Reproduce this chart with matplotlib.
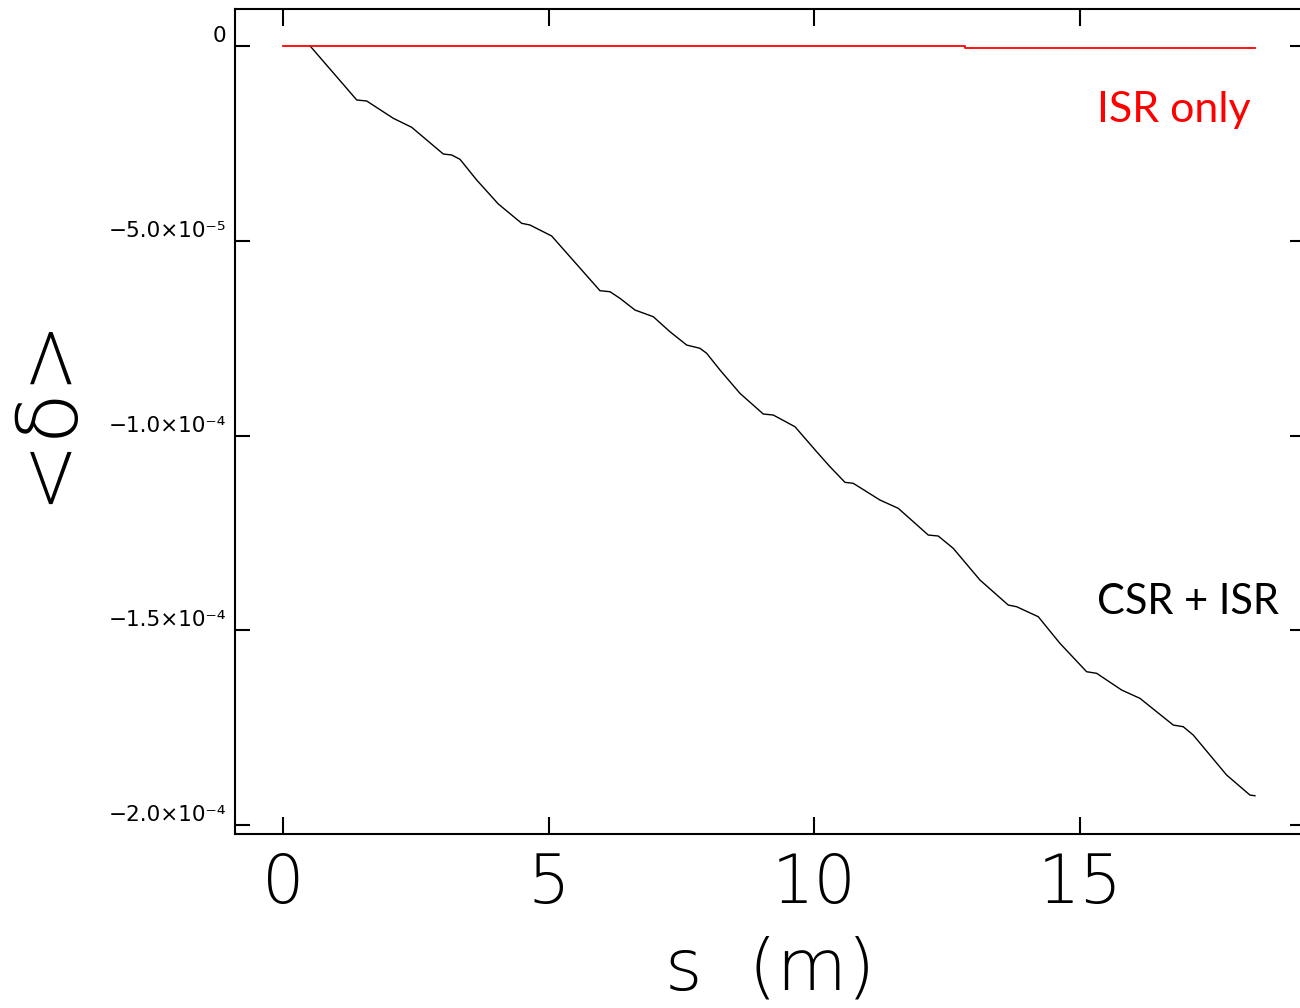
import matplotlib
matplotlib.use("Agg")
import matplotlib.pyplot as plt
from matplotlib.ticker import FixedLocator, FixedFormatter

# ---- data ----
s_csr = [0.51, 1.387, 1.575, 2.075, 2.421, 3.016, 3.174, 3.330, 3.644, 4.051,
         4.491, 4.647, 5.055, 5.964, 6.152, 6.340, 6.623, 6.967, 7.281, 7.595,
         7.846, 7.972, 8.222, 8.598, 9.037, 9.225, 9.633, 10.041, 10.292, 10.574,
         10.730, 11.232, 11.577, 12.141, 12.329, 12.611, 13.114, 13.646, 13.804, 14.211,
         14.619, 15.121, 15.310, 15.780, 16.124, 16.751, 16.939, 17.127, 17.755, 18.194,
         18.288]
d_csr = [0.0, -1.386e-5, -1.412e-5, -1.856e-5, -2.087e-5, -2.773e-5, -2.798e-5, -2.909e-5, -3.440e-5, -4.056e-5,
         -4.552e-5, -4.596e-5, -4.878e-5, -6.282e-5, -6.308e-5, -6.478e-5, -6.778e-5, -6.950e-5, -7.335e-5, -7.677e-5,
         -7.761e-5, -7.890e-5, -8.318e-5, -8.917e-5, -9.448e-5, -9.474e-5, -9.774e-5, -1.0416e-4, -1.0801e-4, -1.1202e-4,
         -1.1227e-4, -1.1656e-4, -1.1869e-4, -1.2555e-4, -1.2580e-4, -1.2896e-4, -1.3710e-4, -1.4352e-4, -1.4395e-4, -1.4652e-4,
         -1.5335e-4, -1.6064e-4, -1.6105e-4, -1.6534e-4, -1.6747e-4, -1.7433e-4, -1.7476e-4, -1.7689e-4, -1.8716e-4, -1.9230e-4,
         -1.9248e-4]

s_isr = [0.0, 12.83, 12.83, 18.29]
d_isr = [0.0, 0.0, -3.9e-7, -3.9e-7]

x_ticks = [0, 5, 10, 15]
x_ticklabels = ["0", "5", "10", "15"]
y_ticks = [0.0, -5e-5, -1e-4, -1.5e-4, -2e-4]
y_ticklabels = ["0", "\u22125.0\u00d710\u207b\u2075", "\u22121.0\u00d710\u207b\u2074",
                "\u22121.5\u00d710\u207b\u2074", "\u22122.0\u00d710\u207b\u2074"]

label_isr = "ISR only"
label_csr = "CSR + ISR"
x_label = "s  (m)"
y_label = "<\u03b4>"

# ---- figure ----
fig = plt.figure(figsize=(13.0, 10.08), dpi=100)
ax = fig.add_axes([234.5 / 1300, 1 - 834 / 1008, (1305 - 234.5) / 1300, (834 - 9) / 1008])

ax.plot(s_csr, d_csr, color="black", lw=1.0)
ax.plot(s_isr, d_isr, color="#ff0000", lw=1.3)

ax.set_xlim(-0.913, 19.23)
ax.set_ylim(-2.023e-4, 9.5e-6)

for sp in ax.spines.values():
    sp.set_linewidth(1.5)
    sp.set_color("black")

ax.xaxis.set_major_locator(FixedLocator(x_ticks))
ax.xaxis.set_major_formatter(FixedFormatter(x_ticklabels))
ax.yaxis.set_major_locator(FixedLocator(y_ticks))
ax.yaxis.set_major_formatter(FixedFormatter(y_ticklabels))

ax.tick_params(axis="x", which="major", direction="in", length=12, width=1.5,
               top=True, bottom=True, labelsize=48, pad=12)
ax.tick_params(axis="y", which="major", direction="in", length=11, width=1.5,
               left=True, right=True, labelsize=15.5, pad=6)
for lab in ax.get_xticklabels():
    lab.set_fontweight("light")
for lab in ax.get_yticklabels():
    lab.set_verticalalignment("bottom")

ax.set_xlabel(x_label, fontsize=52, fontweight="light")
ax.xaxis.set_label_coords(0.5, -0.123)
ax.set_ylabel(y_label, fontsize=60, fontweight="light")
ax.yaxis.set_label_coords(-0.138, 0.515)

ax.text(15.315, -1.951e-5, label_isr, color="#ff0000", fontsize=31,
        family=["Lato", "DejaVu Sans"], va="baseline", ha="left")
ax.text(15.315, -1.458e-4, label_csr, color="black", fontsize=30,
        family=["Lato", "DejaVu Sans"], va="baseline", ha="left")

fig.savefig("out.png", dpi=100)
